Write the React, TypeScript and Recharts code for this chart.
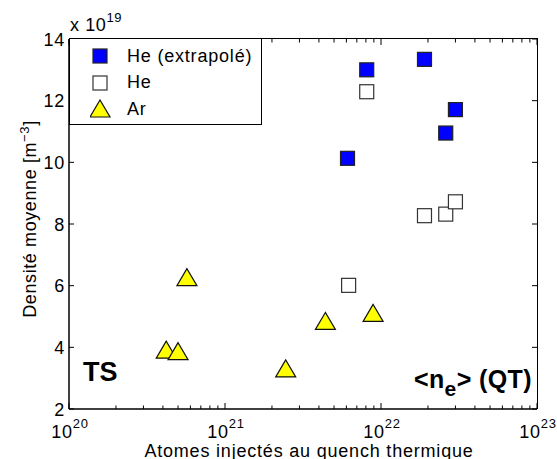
import React from 'react';
import { ScatterChart, Scatter, XAxis, YAxis, Legend } from 'recharts';

const heExtrapX = [6.1e21, 8.1e21, 1.9e22, 2.6e22, 3.0e22];
const heExtrapY = [10.13, 13.0, 13.34, 10.95, 11.71];
const heX = [6.2e21, 8.1e21, 1.9e22, 2.6e22, 3.0e22];
const heY = [6.01, 12.29, 8.27, 8.32, 8.72];
const arX = [4.2e20, 5.0e20, 5.7e20, 2.45e21, 4.4e21, 8.9e21];
const arY = [3.91, 3.86, 6.26, 3.3, 4.84, 5.1];

const xMajorTicks = [1e20, 1e21, 1e22, 1e23];
const xMinorMult = [2, 3, 4, 5, 6, 7, 8, 9];
const yTicks = [2, 4, 6, 8, 10, 12, 14];
const seriesNames = ['He (extrapolé)', 'He', 'Ar'];

const xAllTicks: number[] = [];
xMajorTicks.forEach((t, i) => {
  xAllTicks.push(t);
  if (i < xMajorTicks.length - 1) xMinorMult.forEach((m) => xAllTicks.push(t * m));
});

const zip = (xs: number[], ys: number[]) => xs.map((x, i) => ({ x, y: ys[i] }));
const heExtrapData = zip(heExtrapX, heExtrapY);
const heData = zip(heX, heY);
const arData = zip(arX, arY);

const FONT = '"Liberation Sans", Arial, Helvetica, sans-serif';

const CHART_W = 557;
const CHART_H = 459;
const MARGIN = { top: 39, right: 20, bottom: 10, left: 9 };
const Y_AXIS_W = 60;
const X_AXIS_H = 40;
const PLOT_W = CHART_W - MARGIN.left - MARGIN.right - Y_AXIS_W;
const PLOT_H = CHART_H - MARGIN.top - MARGIN.bottom - X_AXIS_H;

const isMajor = (v: number) => xMajorTicks.some((t) => Math.abs(v / t - 1) < 1e-6);

const BottomTick = (props: any) => {
  const { x, y, payload } = props;
  const v = payload.value;
  const major = isMajor(v);
  const exp = Math.round(Math.log10(v));
  const len = major ? 6 : 3.5;
  return (
    <g>
      <line x1={x} x2={x} y1={y} y2={y - len} stroke="#000" strokeWidth={1} />
      <line x1={x} x2={x} y1={y - PLOT_H} y2={y - PLOT_H + len} stroke="#000" strokeWidth={1} />
      {major && (
        <text x={x + 1} y={y + 29} textAnchor="middle" fontFamily={FONT} fontSize={18} letterSpacing={0.8} fill="#000">
          <tspan>10</tspan>
          <tspan dy={-10} fontSize={13}>{exp}</tspan>
        </text>
      )}
    </g>
  );
};

const LeftTick = (props: any) => {
  const { x, y, payload } = props;
  return (
    <g>
      <line x1={x} x2={x + 5} y1={y} y2={y} stroke="#000" strokeWidth={1} />
      <line x1={x + PLOT_W} x2={x + PLOT_W - 5} y1={y} y2={y} stroke="#000" strokeWidth={1} />
      <text x={x - 4} y={y + 6.5} textAnchor="end" fontFamily={FONT} fontSize={18} letterSpacing={0.8} fill="#000">
        {payload.value}
      </text>
    </g>
  );
};

const BlueSquare = (props: any) => {
  const { cx, cy } = props;
  return <rect x={cx - 7} y={cy - 7} width={14} height={14} fill="#0000ff" stroke="#222" strokeWidth={1.2} />;
};
const WhiteSquare = (props: any) => {
  const { cx, cy } = props;
  return <rect x={cx - 7} y={cy - 7} width={14} height={14} fill="#fff" stroke="#333" strokeWidth={1.2} />;
};
const Triangle = (props: any) => {
  const { cx, cy } = props;
  return (
    <polygon
      points={`${cx},${cy - 9} ${cx - 10},${cy + 8} ${cx + 10},${cy + 8}`}
      fill="#ffff00"
      stroke="#111"
      strokeWidth={1.2}
    />
  );
};

const LegendBox = () => {
  const icons = [
    <rect key="a" x={3} y={3} width={14} height={14} fill="#0000ff" stroke="#222" strokeWidth={1.2} />,
    <rect key="b" x={3} y={3} width={14} height={14} fill="#fff" stroke="#333" strokeWidth={1.2} />,
    <polygon key="c" points="10,1 0,18 20,18" fill="#ffff00" stroke="#111" strokeWidth={1.2} />,
  ];
  return (
    <div
      style={{
        width: 193,
        height: 87,
        border: '1.5px solid #000',
        background: '#fff',
        boxSizing: 'border-box',
        fontFamily: FONT,
        fontSize: 18,
        letterSpacing: 0.8,
        position: 'relative',
      }}
    >
      {seriesNames.map((n, i) => (
        <div key={n} style={{ position: 'absolute', left: 0, top: 6 + i * 26.5, height: 22, display: 'flex', alignItems: 'center' }}>
          <svg width={22} height={20} style={{ marginLeft: 20 }}>{icons[i]}</svg>
          <span style={{ marginLeft: 15, color: '#000', whiteSpace: 'nowrap' }}>{n}</span>
        </div>
      ))}
    </div>
  );
};

export default function App() {
  return (
    <div style={{ position: 'absolute', left: 0, top: 0, width: CHART_W, height: CHART_H, background: '#fff', fontFamily: FONT }}>
      <ScatterChart width={CHART_W} height={CHART_H} margin={MARGIN}>
        <XAxis
          xAxisId="bottom"
          dataKey="x"
          type="number"
          scale="log"
          domain={[1e20, 1e23]}
          allowDataOverflow
          ticks={xAllTicks}
          interval={0}
          height={X_AXIS_H}
          tickSize={0}
          tickMargin={0}
          tickLine={false}
          tick={<BottomTick />}
          axisLine={{ stroke: '#000', strokeWidth: 1.5 }}
        />
        <YAxis
          yAxisId="left"
          dataKey="y"
          type="number"
          domain={[2, 14]}
          allowDataOverflow
          ticks={yTicks}
          interval={0}
          width={Y_AXIS_W}
          tickSize={0}
          tickMargin={0}
          tickLine={false}
          tick={<LeftTick />}
          axisLine={{ stroke: '#000', strokeWidth: 1.5 }}
        />
        <Legend
          layout="vertical"
          align="center"
          verticalAlign="middle"
          content={<LegendBox />}
          wrapperStyle={{ position: 'absolute', left: 69, top: 38, width: 193, height: 87 }}
        />
        <Scatter name={seriesNames[0]} data={heExtrapData} xAxisId="bottom" yAxisId="left" shape={<BlueSquare />} isAnimationActive={false} />
        <Scatter name={seriesNames[1]} data={heData} xAxisId="bottom" yAxisId="left" shape={<WhiteSquare />} isAnimationActive={false} />
        <Scatter name={seriesNames[2]} data={arData} xAxisId="bottom" yAxisId="left" shape={<Triangle />} isAnimationActive={false} />
      </ScatterChart>
      <div
        style={{
          position: 'absolute',
          left: MARGIN.left + Y_AXIS_W,
          top: MARGIN.top - 0.75,
          width: PLOT_W + 0.75,
          height: PLOT_H + 0.75,
          boxSizing: 'border-box',
          borderTop: '1.5px solid #000',
          borderRight: '1.5px solid #000',
          pointerEvents: 'none',
        }}
      />
      <div style={{ position: 'absolute', left: 70, top: 12, fontSize: 18, letterSpacing: 0.6, color: '#000', whiteSpace: 'nowrap' }}>
        x 10<sup style={{ fontSize: 13, position: 'relative', top: -2 }}>19</sup>
      </div>
      <div style={{ position: 'absolute', left: 83, top: 357, fontSize: 27, fontWeight: 'bold', color: '#000' }}>TS</div>
      <div style={{ position: 'absolute', right: 25, top: 365, fontSize: 25, letterSpacing: 0.4, fontWeight: 'bold', color: '#000', whiteSpace: 'nowrap' }}>
        &lt;n<sub style={{ fontSize: 21, position: 'relative', top: 2 }}>e</sub>&gt; (QT)
      </div>
      <div
        style={{
          position: 'absolute',
          left: 29,
          top: 219,
          transform: 'translate(-50%, -50%) rotate(-90deg)',
          fontSize: 18,
          letterSpacing: 0.6,
          color: '#000',
          whiteSpace: 'nowrap',
        }}
      >
        Densité moyenne [m<sup style={{ fontSize: 13 }}>−3</sup>]
      </div>
      <div
        style={{
          position: 'absolute',
          left: 309,
          top: 451,
          transform: 'translate(-50%, -50%)',
          fontSize: 18,
          letterSpacing: 0.8,
          color: '#000',
          whiteSpace: 'nowrap',
        }}
      >
        Atomes injectés au quench thermique
      </div>
    </div>
  );
}
